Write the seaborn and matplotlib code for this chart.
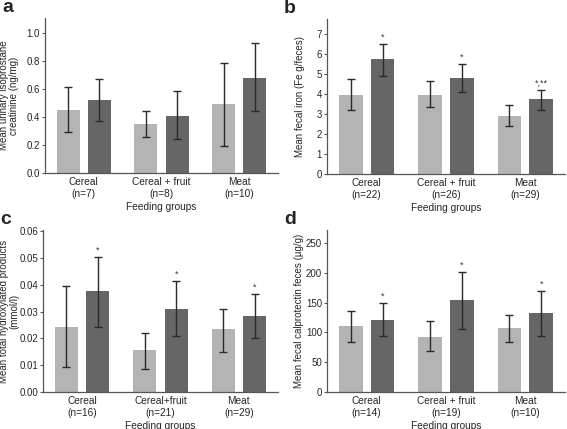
import seaborn as sns
import pandas as pd
import matplotlib.pyplot as plt

# Datos (media, limite inferior y superior de la barra de error)
series = ['baseline', 'follow-up']
colores = ['#b4b4b4', '#666666']

grupos_a = ['Cereal\n(n=7)', 'Cereal + fruit\n(n=8)', 'Meat\n(n=10)']
media_a = [[0.45, 0.35, 0.49], [0.52, 0.41, 0.68]]
bajo_a = [[0.29, 0.26, 0.19], [0.37, 0.245, 0.44]]
alto_a = [[0.615, 0.445, 0.785], [0.67, 0.585, 0.93]]
estrella_a = [['', '', ''], ['', '', '']]

grupos_b = ['Cereal\n(n=22)', 'Cereal + fruit\n(n=26)', 'Meat\n(n=29)']
media_b = [[3.96, 3.96, 2.90], [5.74, 4.79, 3.73]]
bajo_b = [[3.21, 3.36, 2.40], [4.89, 4.08, 3.18]]
alto_b = [[4.74, 4.66, 3.44], [6.49, 5.51, 4.19]]
estrella_b = [['', '', ''], ['*', '*', '*,**']]

grupos_c = ['Cereal\n(n=16)', 'Cereal+fruit\n(n=21)', 'Meat\n(n=29)']
media_c = [[0.0241, 0.0156, 0.0234], [0.0376, 0.0310, 0.0282]]
bajo_c = [[0.0092, 0.0086, 0.0148], [0.0242, 0.0209, 0.0200]]
alto_c = [[0.0397, 0.0220, 0.0311], [0.0506, 0.0414, 0.0366]]
estrella_c = [['', '', ''], ['*', '*', '*']]

grupos_d = ['Cereal\n(n=14)', 'Cereal + fruit\n(n=19)', 'Meat\n(n=10)']
media_d = [[110.9, 91.8, 108.1], [121.0, 154.8, 132.3]]
bajo_d = [[84.5, 68.1, 84.5], [94.6, 106.4, 94.0]]
alto_d = [[135.7, 118.8, 130.0], [149.8, 201.0, 169.5]]
estrella_d = [['', '', ''], ['*', '*', '*']]

sns.set_style("ticks")
plt.rcParams['font.family'] = ['Liberation Sans', 'DejaVu Sans']

fig = plt.figure(figsize=(5.67, 4.29), dpi=100)
W, H = 567, 429


def caja(izq, der, arriba, abajo):
    return [izq / W, 1 - abajo / H, (der - izq) / W, (abajo - arriba) / H]


def panel(rect, letra, grupos, media, bajo, alto, estrellas, ylabel, ylim, yticks, fmt, xlab):
    ax = fig.add_axes(rect)
    filas = []
    for s, nombre in enumerate(series):
        for g, grupo in enumerate(grupos):
            filas.append({'grupo': grupo, 'serie': nombre, 'media': media[s][g],
                          'bajo': bajo[s][g], 'alto': alto[s][g], 'estrella': estrellas[s][g]})
    df = pd.DataFrame(filas)
    sns.barplot(data=df, x='grupo', y='media', hue='serie', palette=colores,
                errorbar=None, width=0.8, gap=0.26, legend=False, ax=ax, linewidth=0)
    barras = [p for p in ax.patches if p.get_height() > 0]
    # orden de seaborn: primero todas las barras de la serie 0, luego la serie 1
    for p, (_, fila) in zip(barras, df.iterrows()):
        cx = p.get_x() + p.get_width() / 2
        ax.errorbar(cx, fila['media'],
                    yerr=[[fila['media'] - fila['bajo']], [fila['alto'] - fila['media']]],
                    fmt='none', ecolor='#2a2a2a', elinewidth=1.0, capsize=3.2, capthick=1.0)
        if fila['estrella']:
            ax.annotate(fila['estrella'], (cx, fila['alto']), xytext=(0, 1.5),
                        textcoords='offset points', ha='center', va='bottom',
                        fontsize=6.5, color='#333333')
    ax.set_ylim(*ylim)
    ax.set_xlim(-0.5, 2.5)
    ax.set_yticks(yticks)
    ax.set_yticklabels([fmt.format(t) for t in yticks])
    ax.set_ylabel(ylabel, fontsize=7, linespacing=1.0)
    # borde derecho de la etiqueta del eje y, en pixeles de la figura
    ax.yaxis.set_label_coords((xlab - rect[0] * W) / (rect[2] * W), 0.5)
    ax.set_xlabel('Feeding groups', fontsize=7.3, labelpad=2)
    ax.tick_params(axis='y', labelsize=7, length=2.5, width=0.8, color='#555555', pad=1)
    ax.tick_params(axis='x', labelsize=7.3, length=0, pad=3)
    sns.despine(ax=ax)
    for lado in ['left', 'bottom']:
        ax.spines[lado].set_color('#555555')
        ax.spines[lado].set_linewidth(0.9)
    fig.text(rect[0] - 43 / W, rect[1] + rect[3] + 2 / H, letra, fontsize=14,
             fontweight='bold', va='bottom', ha='left')
    return ax


panel(caja(45, 278, 18, 173), 'a', grupos_a, media_a, bajo_a, alto_a, estrella_a,
      'Mean urinary isoprostane\ncreatinine (ng/mg)', (0, 1.107),
      [0.0, 0.2, 0.4, 0.6, 0.8, 1.0], '{:.1f}', 19)
panel(caja(327, 565, 19, 174), 'b', grupos_b, media_b, bajo_b, alto_b, estrella_b,
      'Mean fecal iron (Fe g/feces)', (0, 7.75), list(range(8)), '{:d}', 305)
panel(caja(43, 278, 230, 392), 'c', grupos_c, media_c, bajo_c, alto_c, estrella_c,
      'Mean total hydroxylated products\n(mmol/l)', (0, 0.0605),
      [0.0, 0.01, 0.02, 0.03, 0.04, 0.05, 0.06], '{:.2f}', 19)
panel(caja(327, 565, 230, 392), 'd', grupos_d, media_d, bajo_d, alto_d, estrella_d,
      'Mean fecal calprotectin feces (µg/g)', (0, 272),
      [0, 50, 100, 150, 200, 250], '{:d}', 304)

fig.savefig('out.png', dpi=100)
